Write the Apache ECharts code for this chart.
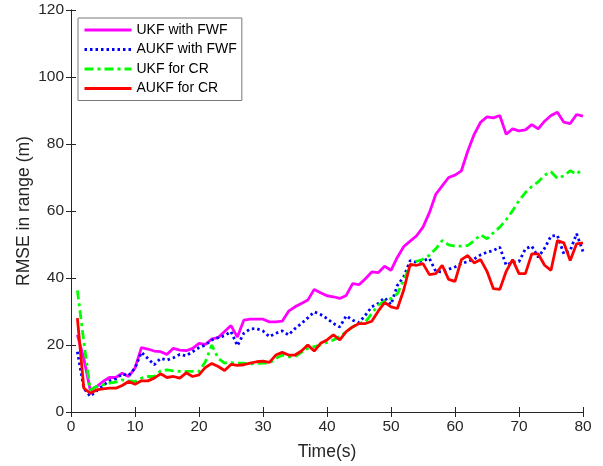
<!DOCTYPE html>
<html>
<head>
<meta charset="utf-8">
<script src="https://cdn.jsdelivr.net/npm/echarts@6/dist/echarts.min.js"></script>
<style>
  html, body { margin: 0; padding: 0; background: #fff; }
  #chart { width: 603px; height: 466px; }
</style>
</head>
<body>
<div id="chart"></div>
<script>
// Time stamps (s)
const time = Array.from({ length: 80 }, (_, i) => i + 1);

// RMSE in range (m) for each filter
const ukfFwf = [23, 16, 6.6, 7.6, 9.1, 10.3, 10.3, 11.6, 10.6, 13.1,
  19.2, 18.8, 18.2, 18.0, 17.2, 19.0, 18.5, 18.3, 19.0, 20.5,
  20.2, 21.8, 22.2, 24.0, 25.8, 22.4, 27.4, 27.7, 27.7, 27.7,
  26.9, 26.9, 27.1, 30.1, 31.4, 32.4, 33.4, 36.6, 35.6, 34.7,
  34.4, 33.9, 34.8, 38.3, 38.0, 39.8, 41.8, 41.6, 43.5, 42.3,
  46.2, 49.4, 51.0, 52.6, 55.2, 59.5, 65.0, 67.5, 70.0, 70.7,
  72.0, 77.9, 82.9, 86.5, 88.1, 87.8, 88.5, 82.9, 84.5, 83.9,
  84.2, 85.8, 84.5, 86.8, 88.5, 89.5, 86.5, 86.1, 88.8, 88.3];

const aukfFwf = [18.0, 7.1, 4.7, 6.3, 7.9, 9.3, 9.9, 11.3, 10.9, 13.1,
  17.8, 16.0, 14.1, 16.0, 15.5, 16.2, 17.2, 16.8, 18.0, 19.2,
  20.0, 21.5, 22.2, 22.8, 24.0, 19.8, 23.5, 24.8, 24.9, 24.2,
  22.5, 23.5, 24.2, 23.0, 24.9, 26.4, 28.1, 29.9, 29.1, 27.9,
  26.4, 25.4, 28.7, 27.4, 26.7, 28.9, 31.4, 32.4, 34.1, 32.1,
  37.8, 40.4, 45.2, 44.7, 45.2, 45.8, 42.0, 41.8, 42.6, 43.3,
  44.3, 44.9, 45.7, 46.9, 47.7, 48.2, 49.2, 43.8, 44.7, 44.9,
  48.7, 49.5, 46.2, 48.9, 52.5, 52.7, 47.2, 48.2, 53.2, 47.9];

const ukfCr = [36.3, 21, 6.6, 7.6, 8.1, 8.6, 8.9, 9.6, 9.3, 9.1,
  10.1, 10.6, 10.6, 12.3, 12.6, 12.3, 12.1, 12.1, 12.1, 12.1,
  15.0, 20.0, 16.0, 14.6, 14.7, 14.6, 14.6, 14.3, 14.5, 14.6,
  14.6, 16.0, 17.0, 16.5, 16.5, 17.8, 19.0, 19.5, 20.0, 20.8,
  21.5, 22.5, 24.0, 25.4, 26.4, 26.9, 29.4, 31.9, 33.1, 33.9,
  35.3, 39.5, 43.5, 45.0, 45.6, 46.8, 48.7, 51.2, 49.9, 49.5,
  49.5, 49.7, 51.2, 52.9, 51.7, 53.5, 55.2, 57.4, 60.1, 63.1,
  65.5, 67.3, 68.7, 70.7, 71.7, 69.7, 70.5, 72.0, 71.0, 72.7];

const aukfCr = [28, 7.1, 5.6, 6.6, 6.9, 7.1, 7.1, 7.9, 9.1, 8.3,
  9.3, 9.3, 10.1, 11.4, 10.3, 10.6, 10.1, 11.7, 10.6, 11.1,
  13.3, 14.5, 13.6, 12.4, 14.2, 13.9, 14.1, 14.6, 15.0, 15.2,
  14.8, 17.0, 17.8, 17.0, 17.0, 18.2, 20.0, 18.2, 20.5, 21.5,
  23.0, 21.5, 24.0, 25.4, 26.4, 26.4, 27.1, 30.1, 32.7, 31.4,
  30.9, 36.5, 44.1, 43.8, 44.3, 41.0, 41.3, 43.8, 39.6, 39.0,
  45.5, 46.7, 44.5, 45.5, 42.0, 36.8, 36.6, 42.0, 45.5, 41.3,
  41.3, 47.2, 47.2, 43.8, 42.3, 51.2, 50.5, 45.2, 50.2, 50.5];

const seriesNames = ['UKF with FWF', 'AUKF with FWF', 'UKF for CR', 'AUKF for CR'];

const pair = arr => time.map((t, i) => [t, arr[i]]);

const FONT = "'Liberation Sans', Arial, Helvetica, sans-serif";
const AXIS_COLOR = '#262626';

const frameAxis = {
  axisLine: { show: true, lineStyle: { color: AXIS_COLOR, width: 1 } },
  axisTick: { show: true, inside: true, length: 5, lineStyle: { color: AXIS_COLOR } },
  splitLine: { show: false }
};

const chart = echarts.init(document.getElementById('chart'), null, { renderer: 'canvas' });

chart.setOption({
  backgroundColor: '#ffffff',
  animation: false,
  grid: { left: 71, right: 20, top: 10, bottom: 52, containLabel: false },
  legend: {
    orient: 'vertical',
    left: 78,
    top: 18,
    itemWidth: 47,
    itemHeight: 14,
    itemGap: 5.5,
    padding: [5, 5, 5, 5],
    backgroundColor: '#ffffff',
    borderColor: '#7a7a7a',
    borderWidth: 1,
    borderRadius: 0,
    itemStyle: { opacity: 0 },
    lineStyle: { width: 3 },
    textStyle: { fontFamily: FONT, fontSize: 14, color: '#000' },
    data: seriesNames
  },
  xAxis: [
    Object.assign({
      type: 'value', min: 0, max: 80, interval: 10, position: 'bottom',
      name: 'Time(s)', nameLocation: 'middle', nameGap: 31, nameMoveOverlap: false,
      nameTextStyle: { fontFamily: FONT, fontSize: 17.5, color: AXIS_COLOR },
      axisLabel: { fontFamily: FONT, fontSize: 15.5, color: AXIS_COLOR, margin: 7 }
    }, frameAxis),
    Object.assign({
      type: 'value', min: 0, max: 80, interval: 10, position: 'top',
      axisLabel: { show: false }
    }, frameAxis)
  ],
  yAxis: [
    Object.assign({
      type: 'value', min: 0, max: 120, interval: 20, position: 'left',
      name: 'RMSE in range (m)', nameLocation: 'middle', nameGap: 38, nameMoveOverlap: false,
      nameTextStyle: { fontFamily: FONT, fontSize: 17.5, color: AXIS_COLOR },
      axisLabel: { fontFamily: FONT, fontSize: 15.5, color: AXIS_COLOR, margin: 7 }
    }, frameAxis),
    Object.assign({
      type: 'value', min: 0, max: 120, interval: 20, position: 'right',
      axisLabel: { show: false }
    }, frameAxis)
  ],
  series: [
    {
      name: seriesNames[0], type: 'line', data: pair(ukfFwf), symbol: 'none',
      lineStyle: { color: '#ff00ff', width: 2.8, type: 'solid' },
      itemStyle: { color: '#ff00ff' }
    },
    {
      name: seriesNames[1], type: 'line', data: pair(aukfFwf), symbol: 'none',
      lineStyle: { color: '#0000ff', width: 2.8, type: [2.5, 3] },
      itemStyle: { color: '#0000ff' }
    },
    {
      name: seriesNames[2], type: 'line', data: pair(ukfCr), symbol: 'none',
      lineStyle: { color: '#00ff00', width: 2.8, type: [9, 4, 3, 4] },
      itemStyle: { color: '#00ff00' }
    },
    {
      name: seriesNames[3], type: 'line', data: pair(aukfCr), symbol: 'none',
      lineStyle: { color: '#ff0000', width: 2.8, type: 'solid' },
      itemStyle: { color: '#ff0000' }
    }
  ]
});
</script>
</body>
</html>
